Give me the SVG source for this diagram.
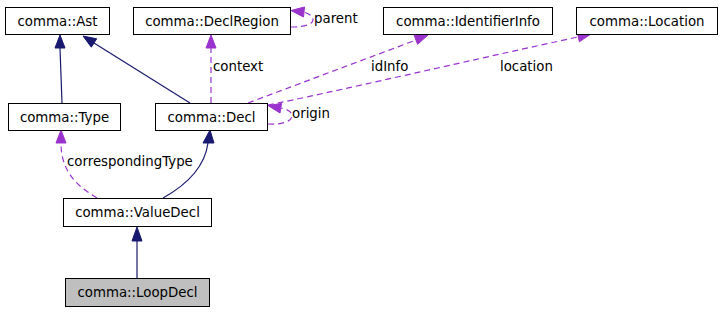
<svg xmlns="http://www.w3.org/2000/svg" width="720" height="312" viewBox="0 0 720 312">
<style>
.box{fill:#fff;stroke:#000;stroke-width:1}
.t{font-family:"DejaVu Sans",sans-serif;font-size:13.33px;fill:#000}
.m{text-anchor:middle}
.inh{fill:none;stroke:#191970;stroke-width:1.2}
.inhh{fill:#191970;stroke:#191970}
.use{fill:none;stroke:#9a32cd;stroke-width:1.2;stroke-dasharray:6,4}
.useh{fill:#9a32cd;stroke:#9a32cd}
</style>
<rect width="720" height="312" fill="#fff"/>
<g id="connectors">
<path class="inh" d="M62,103 L60,48"/>
<polygon class="inhh" points="60,35 55,48 65,48"/>
<path class="inh" d="M190,103 L94,43"/>
<polygon class="inhh" points="83,36 96.7,38.8 91.3,47.2"/>
<path class="use" d="M211,103 L211,48"/>
<polygon class="useh" points="211,35 206,48 216,48"/>
<path class="use" d="M291,27 C305,27 313,24 313,20 C313,15 307,13 303,12"/>
<polygon class="useh" points="291,10.5 304.5,7 303.5,17"/>
<path class="use" d="M248,103 L416,40"/>
<polygon class="useh" points="428,35 417.6,44.3 414,34.9"/>
<path class="use" d="M268,105 C320,95 480,58 578,37"/>
<polygon class="useh" points="591,34 579.4,41.7 577.2,31.9"/>
<path class="use" d="M268,124 C282,125 292,121 292,116 C292,111 286,109 281,108"/>
<polygon class="useh" points="268,105.5 281.5,103.5 280,113"/>
<path class="inh" d="M163,198 C190,183 205,165 208,143"/>
<polygon class="inhh" points="210,130 203,143 214,143"/>
<path class="use" d="M97,198 C75,185 61,170 61,143"/>
<polygon class="useh" points="61,130 56,143 66,143"/>
<path class="inh" d="M137,278 L137,241"/>
<polygon class="inhh" points="137,227 132,241 142,241"/>
<text class="t" x="213" y="71">context</text>
<text class="t" x="314" y="23">parent</text>
<text class="t" x="371" y="71">idInfo</text>
<text class="t" x="500" y="71">location</text>
<text class="t" x="292" y="118">origin</text>
<text class="t" x="67" y="166">correspondingType</text>
</g>
<g id="ast"><rect class="box" x="5.5" y="7.5" width="104" height="27"/><text class="t m" x="57.5" y="25.5">comma::Ast</text></g>
<g id="declregion"><rect class="box" x="133.5" y="7.5" width="157" height="27"/><text class="t m" x="212" y="25.5">comma::DeclRegion</text></g>
<g id="identifierinfo"><rect class="box" x="383.5" y="7.5" width="169" height="27"/><text class="t m" x="468" y="25.5">comma::IdentifierInfo</text></g>
<g id="location"><rect class="box" x="576.5" y="7.5" width="141" height="27"/><text class="t m" x="647" y="25.5">comma::Location</text></g>
<g id="type"><rect class="box" x="8.5" y="103.5" width="112" height="27"/><text class="t m" x="64.5" y="121.5">comma::Type</text></g>
<g id="decl"><rect class="box" x="155.5" y="103.5" width="112" height="27"/><text class="t m" x="211.5" y="121.5">comma::Decl</text></g>
<g id="valuedecl"><rect class="box" x="63.5" y="198.5" width="148" height="28"/><text class="t m" x="137.5" y="217">comma::ValueDecl</text></g>
<g id="loopdecl"><rect class="box" x="65.5" y="278.5" width="144" height="28" style="fill:#bfbfbf"/><text class="t m" x="137.5" y="297">comma::LoopDecl</text></g>
</svg>
